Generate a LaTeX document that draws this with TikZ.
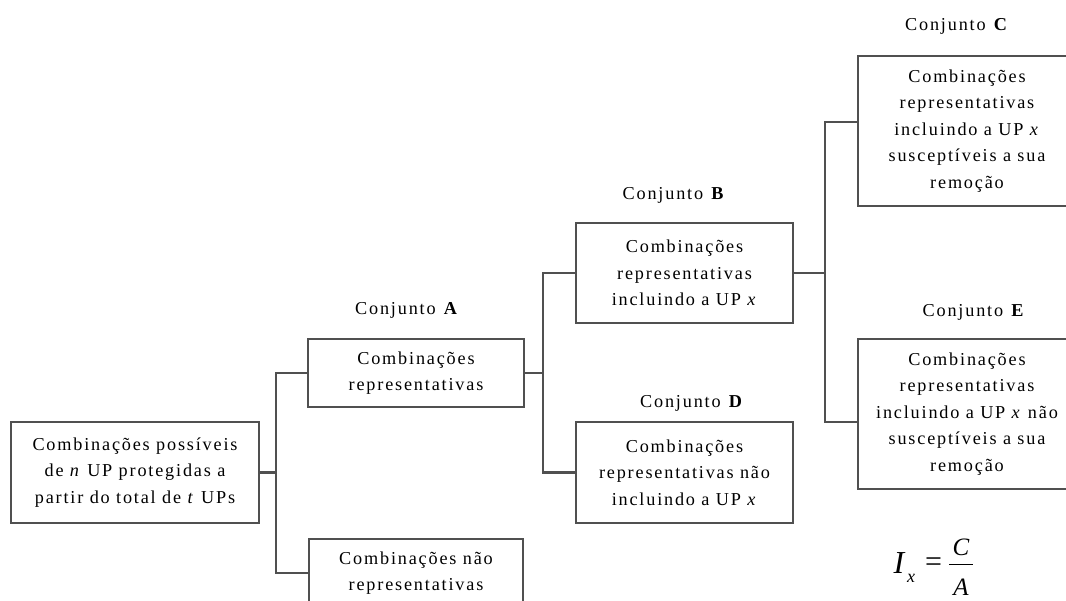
\documentclass[tikz,border=0pt]{standalone}
\usepackage{fontspec}
\setmainfont{Liberation Serif}[LetterSpace=10]
\newfontfamily\eqfont{Liberation Serif}
\definecolor{lc}{HTML}{505050}
\begin{document}
\begin{tikzpicture}[x=1pt,y=-1pt,
  box/.style={draw=lc, line width=2.2pt, align=center, inner sep=0pt,
    font=\fontsize{18.2}{26.5}\selectfont},
  conn/.style={draw=lc, line width=2.2pt},
  lbl/.style={font=\fontsize{18.2}{22}\selectfont, inner sep=0pt, anchor=base}]
\useasboundingbox (0,0) rectangle (1066,601);

\node[box, minimum width=248pt, minimum height=101pt] (root) at (135,472.5)
  {Combinações possíveis\\de \textit{n} UP protegidas a\\partir do total de \textit{t} UPs};
\node[box, minimum width=216pt, minimum height=68pt] (A) at (416,373)
  {Combinações\\representativas};
\node[box, minimum width=214pt, minimum height=68pt] (N) at (416,573)
  {Combinações não\\representativas};
\node[box, minimum width=217pt, minimum height=100pt] (B) at (684.5,273)
  {Combinações\\representativas\\incluindo a UP \textit{x}};
\node[box, minimum width=217pt, minimum height=101pt] (D) at (684.5,472.5)
  {Combinações\\representativas não\\incluindo a UP \textit{x}};
\node[box, minimum width=218pt, minimum height=150pt] (C) at (967,131)
  {Combinações\\representativas\\incluindo a UP \textit{x}\\susceptíveis a sua\\remoção};
\node[box, minimum width=218pt, minimum height=150pt] (E) at (967,414)
  {Combinações\\representativas\\incluindo a UP \textit{x} não\\susceptíveis a sua\\remoção};

\node[lbl] (lA) at (407,315) {Conjunto \textbf{A}};
\node[lbl] (lB) at (674,200) {Conjunto \textbf{B}};
\node[lbl] (lC) at (957,31) {Conjunto \textbf{C}};
\node[lbl] (lD) at (692,408) {Conjunto \textbf{D}};
\node[lbl] (lE) at (974,317) {Conjunto \textbf{E}};

\coordinate (v1) at (276,0);
\coordinate (v2) at (543,0);
\coordinate (v3) at (825,0);
\coordinate (cw) at ([yshift=9pt]C.west);
\coordinate (ew) at ([yshift=-8pt]E.west);

\draw[conn] (root.east) -- (v1 |- root.east);
\draw[conn] (A.west) -- (v1 |- A.west) -- (v1 |- N.west) -- (N.west);
\draw[conn] (A.east) -- (v2 |- A.east);
\draw[conn] (B.west) -- (v2 |- B.west) -- (v2 |- D.west) -- (D.west);
\draw[conn] (B.east) -- (v3 |- B.east);
\draw[conn] (cw) -- (v3 |- cw) -- (v3 |- ew) -- (ew);

% formula I_x = C/A
\node[inner sep=0pt, anchor=base] (fI) at (899,573) {\eqfont\fontsize{32}{32}\selectfont\itshape I};
\node[inner sep=0pt, anchor=base] (fx) at (911,582) {\eqfont\fontsize{18}{18}\selectfont\itshape x};
\node[inner sep=0pt] (feq) at (933.5,565) {\eqfont\fontsize{30}{30}\selectfont =};
\node[inner sep=0pt, anchor=base] (fC) at (961,555) {\eqfont\fontsize{25}{25}\selectfont\itshape C};
\node[inner sep=0pt, anchor=base] (fA) at (961,595) {\eqfont\fontsize{25}{25}\selectfont\itshape A};
\draw[line width=1.3pt] ([yshift=-9pt]fC.south west -| 949,0) -- ([yshift=-9pt]fC.south west -| 973,0);
\end{tikzpicture}
\end{document}
